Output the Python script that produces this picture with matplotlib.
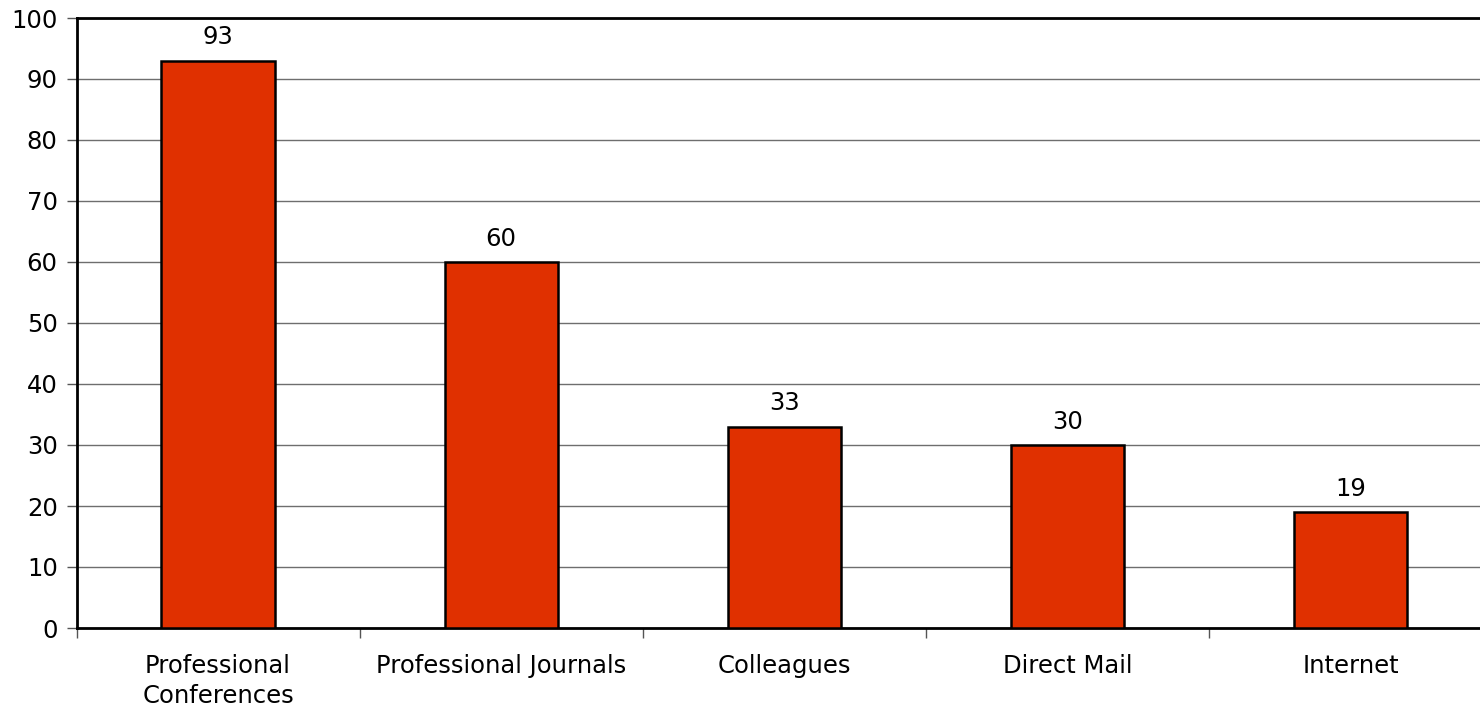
import matplotlib
matplotlib.use("Agg")
import matplotlib.pyplot as plt
import numpy as np

categories = ["Professional\nConferences", "Professional Journals", "Colleagues", "Direct Mail", "Internet"]
values = [93, 60, 33, 30, 19]
yticks = [0, 10, 20, 30, 40, 50, 60, 70, 80, 90, 100]

plt.rcParams['font.family'] = ['DejaVu Sans']
FS = 17.5
fig = plt.figure(figsize=(14.8, 7.09), dpi=100)
left = 76.5 / 1480
right = 1492 / 1480
bottom = 1 - 628 / 709
top = 1 - 18 / 709
ax = fig.add_axes([left, bottom, right - left, top - bottom])

x = np.arange(len(categories))
bars = ax.bar(x, values, width=0.4, color="#E03000", edgecolor="black", linewidth=1.8, zorder=3)
for xi, v in zip(x, values):
    ax.text(xi, v + 2.7, str(v), ha="center", va="baseline", fontsize=FS)

ax.set_xlim(-0.5, len(categories) - 0.5)
ax.set_ylim(0, 100)
ax.set_yticks(yticks)
ax.set_yticklabels([str(t) for t in yticks], fontsize=FS)
ax.set_xticks(x)
ax.set_xticklabels(categories, fontsize=FS, linespacing=1.33)
ax.tick_params(axis="x", which="major", length=0, pad=18.5)
ax.set_xticks(np.arange(len(categories) + 1) - 0.5, minor=True)
ax.tick_params(axis="x", which="minor", length=7, width=1, color="#555555", direction="out")
ax.tick_params(axis="y", length=7, width=1, color="#555555", direction="out", pad=6.5)
ax.yaxis.grid(True, color="#6e6e6e", linewidth=1.0, zorder=0)
ax.set_axisbelow(True)
for s in ["left", "bottom", "top"]:
    ax.spines[s].set_linewidth(2.0)
    ax.spines[s].set_color("black")
ax.spines["right"].set_visible(False)

fig.savefig("out.png", dpi=100)
